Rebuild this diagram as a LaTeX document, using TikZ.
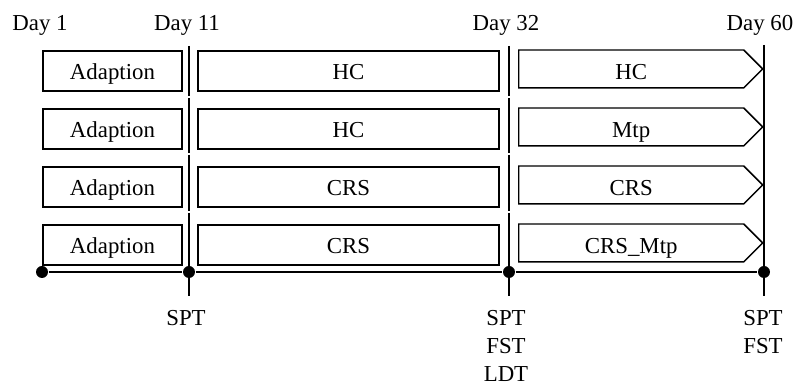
\documentclass[tikz,border=0pt]{standalone}
\usepackage{fontspec}
\setmainfont{Liberation Serif}
\usetikzlibrary{shapes.symbols,calc}

\begin{document}
\begin{tikzpicture}[x=0.02cm, y=-0.02cm, line width=0.85pt,
  lbl/.style={font=\fontsize{13}{15.8}\selectfont},
  plainbox/.style={draw, lbl, minimum height=0.8cm, inner sep=0pt,
    text height=9.6pt, text depth=0pt},
  adapt/.style={plainbox, minimum width=2.78cm},
  phase/.style={plainbox, minimum width=6.02cm},
  trt/.style={draw, lbl, shape=signal, signal from=nowhere, signal to=east,
    minimum width=4.88cm, minimum height=0.76cm, inner sep=0pt,
    text height=11.9pt, text depth=0pt, anchor=west},
  dot/.style={circle, fill, inner sep=0pt, minimum size=0.24cm}]

  \useasboundingbox (0,0) rectangle (796,384);

  % day labels
  \node[lbl] (d1)  at (40,25)  {Day 1};
  \node[lbl] (d11) at (187,25) {Day 11};
  \node[lbl] (d32) at (506,25) {Day 32};
  \node[lbl] (d60) at (760,25) {Day 60};

  % groups
  \foreach \y/\mid/\last/\n in {71/HC/HC/1, 129/HC/Mtp/2, 187/CRS/CRS/3, 245/CRS/CRS\_Mtp/4} {
    \node[adapt] (a\n) at (112.5,\y) {Adaption};
    \node[phase] (p\n) at (348.5,\y) {\mid};
    \node[trt]   (q\n) at (518,\y-2) {\last};
  }

  % time line
  \node[dot] (t1)  at (42,272)  {};
  \node[dot] (t11) at (189,272) {};
  \node[dot] (t32) at (509,272) {};
  \node[dot] (t60) at (764,272) {};
  \draw[line width=1.2pt] (t1) -- (t11) -- (t32) -- (t60);

  \coordinate (top60) at (764,45);
  \coordinate (end60) at (764,296);
  \draw[line width=1.1pt] (top60) -- (end60);
  \foreach \x in {189,509}
    \foreach \ya/\yb in {46/96, 98/153, 155/211, 213/296}
      \draw[line width=1.1pt] (\x,\ya) -- (\x,\yb);

  % tests
  \node[lbl, align=center, anchor=north, inner sep=0pt] (m11) at (186,310) {SPT};
  \node[lbl, align=center, anchor=north, inner sep=0pt] (m32) at (506,310) {SPT\\FST\\LDT};
  \node[lbl, align=center, anchor=north, inner sep=0pt] (m60) at (763,310) {SPT\\FST};
\end{tikzpicture}
\end{document}
